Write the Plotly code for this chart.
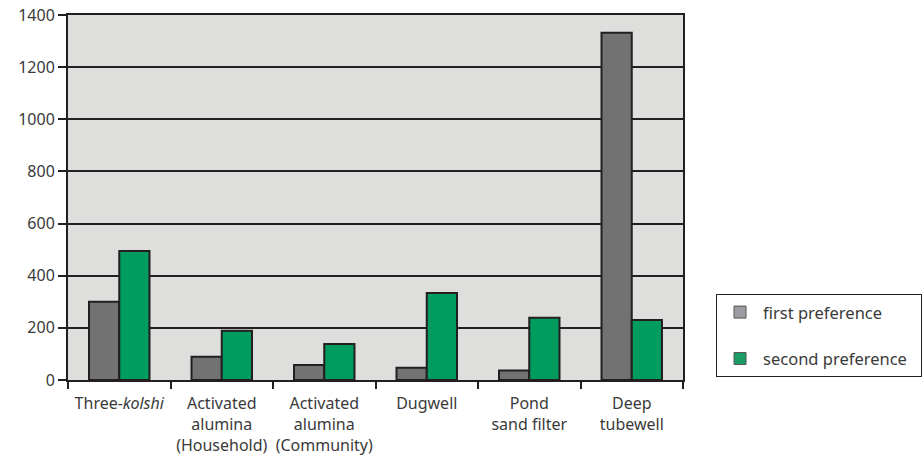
import plotly.graph_objects as go

categories = ["Three-<i>kolshi</i>", "Activated<br>alumina<br>(Household)",
              "Activated<br>alumina<br>(Community)", "Dugwell",
              "Pond<br>sand filter", "Deep<br>tubewell"]
first_pref = [300, 89, 58, 47, 36, 1332]
second_pref = [495, 189, 138, 334, 239, 230]
y_ticks = [0, 200, 400, 600, 800, 1000, 1200, 1400]

FONT = "Noto Sans"
TXT = "#3a3a3a"
LINE = "#231f20"

fig = go.Figure()
fig.add_trace(go.Bar(x=categories, y=first_pref, name="first preference",
                     marker=dict(color="#737272", line=dict(color=LINE, width=2)),
                     showlegend=False, offsetgroup="1"))
fig.add_trace(go.Bar(x=categories, y=second_pref, name="second preference",
                     marker=dict(color="#009b5f", line=dict(color=LINE, width=2)),
                     showlegend=False, offsetgroup="2"))
# legend entries
fig.add_trace(go.Bar(x=[categories[0]], y=[None], name="first preference",
                     marker=dict(color="#9c9ca2", line=dict(color="#555", width=1)),
                     legendgroup="a", offsetgroup="1"))
fig.add_trace(go.Bar(x=[categories[0]], y=[None],
                     name="second preference\u00a0\u00a0",
                     marker=dict(color="#1c9c65", line=dict(color="#555", width=1)),
                     legendgroup="b", offsetgroup="2"))

fig.update_layout(
    width=923, height=462,
    margin=dict(l=68, r=240, t=15, b=82, autoexpand=False),
    plot_bgcolor="#dededc", paper_bgcolor="white",
    barmode="group", bargap=0.41, bargroupgap=0,
    font=dict(family=FONT, size=16, color=TXT),
    legend=dict(x=1.0537, y=0.236, xanchor="left", yanchor="top",
                bordercolor=LINE, borderwidth=1, bgcolor="white",
                tracegroupgap=22, font=dict(size=16.5, color=TXT),
                itemwidth=36),
    xaxis=dict(showline=True, linecolor=LINE, linewidth=2, mirror=True,
               ticks="outside", tickson="boundaries", ticklen=7, tickwidth=2,
               tickcolor=LINE, tickangle=0, automargin=False,
               ticklabelstandoff=8),
    yaxis=dict(range=[0, 1400], tickvals=y_ticks, showline=True, linecolor=LINE,
               linewidth=2, mirror=True, ticks="outside", ticklen=8, tickwidth=2,
               tickcolor=LINE, showgrid=True, gridcolor=LINE, gridwidth=2,
               zeroline=False, automargin=False),
)
fig.write_html("out.html")
